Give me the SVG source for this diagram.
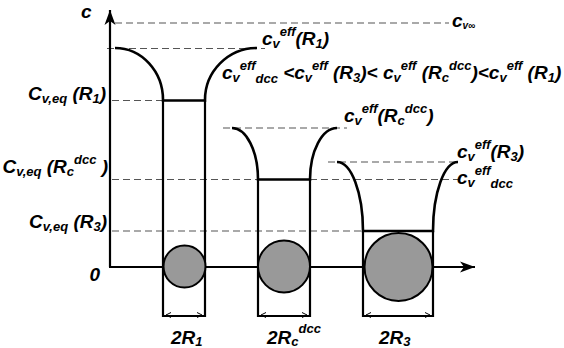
<svg xmlns="http://www.w3.org/2000/svg" width="564" height="348" viewBox="0 0 564 348">
<style>
text{font-family:"Liberation Sans",Arial,sans-serif;font-weight:bold;font-style:italic;font-size:19px;fill:#000}
.s{font-size:13px}
.t{font-size:10px}
.d{stroke:#555;stroke-width:1.2;stroke-dasharray:7 4;fill:none}
.w{stroke:#000;stroke-width:2.6;fill:none}
.v{stroke:#000;stroke-width:2.2;fill:none}
.c{fill:#999;stroke:#000;stroke-width:2}
.a{stroke:#000;stroke-width:1;fill:none}
</style>
<defs>
<marker id="ah" markerWidth="18" markerHeight="12" refX="15" refY="6" orient="auto" markerUnits="userSpaceOnUse">
<path d="M15,6 L0,0.5 L4,6 L0,11.5 Z" fill="#000"/>
</marker>
</defs>
<g id="guides">
<line class="d" x1="115" y1="23" x2="449" y2="23"/>
<line class="d" x1="107" y1="48.5" x2="265" y2="48.5"/>
<line class="d" x1="112" y1="100.5" x2="163" y2="100.5"/>
<line class="d" x1="223" y1="128" x2="347" y2="128"/>
<line class="d" x1="328" y1="162" x2="458" y2="162"/>
<line class="d" x1="112" y1="179.5" x2="458" y2="179.5"/>
<line class="d" x1="112" y1="231" x2="363" y2="231"/>
</g>
<g id="axes">
<line class="v" x1="110" y1="267" x2="110" y2="10" marker-end="url(#ah)"/>
<line class="v" x1="109" y1="267" x2="475" y2="267" marker-end="url(#ah)"/>
</g>
<g id="well1">
<path class="w" d="M115,48 A48,52 0 0 1 163,100.5 L205,100.5 A52,52 0 0 1 257,48"/>
<path class="v" d="M163,100.5 L163,316 L205,316 L205,100.5"/>
<circle class="c" cx="184.5" cy="266.5" r="21"/>
</g>
<g id="well2">
<path class="w" d="M232,128 A26,51.5 0 0 1 258,179.5 L310,179.5 A27,51.5 0 0 1 337,128"/>
<path class="v" d="M258,179.5 L258,316 L310,316 L310,179.5"/>
<circle class="c" cx="284" cy="266.5" r="26"/>
</g>
<g id="well3">
<path class="w" d="M337,162 A26,69 0 0 1 363,231 L433,231 A25,69 0 0 1 458,162"/>
<path class="v" d="M363,231 L363,316 L433,316 L433,231"/>
<circle class="c" cx="398.5" cy="267" r="34"/>
</g>
<g id="connectors">
<path class="a" d="M171,312.5 L166,315 L171,317.5 M197,312.5 L202,315 L197,317.5"/>
<path class="a" d="M266,312.5 L261,315 L266,317.5 M302,312.5 L307,315 L302,317.5"/>
<path class="a" d="M371,312.5 L366,315 L371,317.5 M425,312.5 L430,315 L425,317.5"/>
</g>
<g id="labels">
<text x="81" y="18">c</text>
<text x="452" y="27">c<tspan class="t" dy="2">v∞</tspan></text>
<text x="262" y="45">c<tspan class="s" dy="3">v</tspan><tspan class="s" dy="-12">eff</tspan><tspan dy="9">(R</tspan><tspan class="s" dy="3">1</tspan><tspan dy="-3">)</tspan></text>
<text x="222" y="79">c<tspan class="s" dy="3">v</tspan><tspan class="s" dy="-12">eff</tspan><tspan class="s" dy="13">dcc</tspan><tspan dy="-4"> &lt;c</tspan><tspan class="s" dy="3">v</tspan><tspan class="s" dy="-12">eff</tspan><tspan dy="9"> (R</tspan><tspan class="s" dy="3">3</tspan><tspan dy="-3">)&lt; c</tspan><tspan class="s" dy="3">v</tspan><tspan class="s" dy="-12">eff</tspan><tspan dy="9"> (R</tspan><tspan class="s" dy="3">c</tspan><tspan class="s" dy="-12">dcc</tspan><tspan dy="9">)&lt;c</tspan><tspan class="s" dy="3">v</tspan><tspan class="s" dy="-12">eff</tspan><tspan dy="9"> (R</tspan><tspan class="s" dy="3">1</tspan><tspan dy="-3">)</tspan></text>
<text x="344" y="122">c<tspan class="s" dy="3">v</tspan><tspan class="s" dy="-12">eff</tspan><tspan dy="9">(R</tspan><tspan class="s" dy="3">c</tspan><tspan class="s" dy="-12">dcc</tspan><tspan dy="9">)</tspan></text>
<text x="457" y="158">c<tspan class="s" dy="3">v</tspan><tspan class="s" dy="-12">eff</tspan><tspan dy="9">(R</tspan><tspan class="s" dy="3">3</tspan><tspan dy="-3">)</tspan></text>
<text x="457" y="184">c<tspan class="s" dy="3">v</tspan><tspan class="s" dy="-12">eff</tspan><tspan class="s" dy="13">dcc</tspan></text>
<text x="106" y="100" text-anchor="end">C<tspan class="s" dy="3">v,eq</tspan><tspan dy="-3"> (R</tspan><tspan class="s" dy="3">1</tspan><tspan dy="-3">)</tspan></text>
<text x="108" y="173" text-anchor="end">C<tspan class="s" dy="3">v,eq</tspan><tspan dy="-3"> (R</tspan><tspan class="s" dy="3">c</tspan><tspan class="s" dy="-12">dcc</tspan><tspan dy="9"> )</tspan></text>
<text x="107" y="228" text-anchor="end">C<tspan class="s" dy="3">v,eq</tspan><tspan dy="-3"> (R</tspan><tspan class="s" dy="3">3</tspan><tspan dy="-3">)</tspan></text>
<text x="100" y="281" text-anchor="end">0</text>
<text x="171" y="344">2R<tspan class="s" dy="2">1</tspan></text>
<text x="267" y="344">2R<tspan class="s" dy="2">c</tspan><tspan class="s" dy="-13">dcc</tspan></text>
<text x="379" y="344">2R<tspan class="s" dy="2">3</tspan></text>
</g>
</svg>
